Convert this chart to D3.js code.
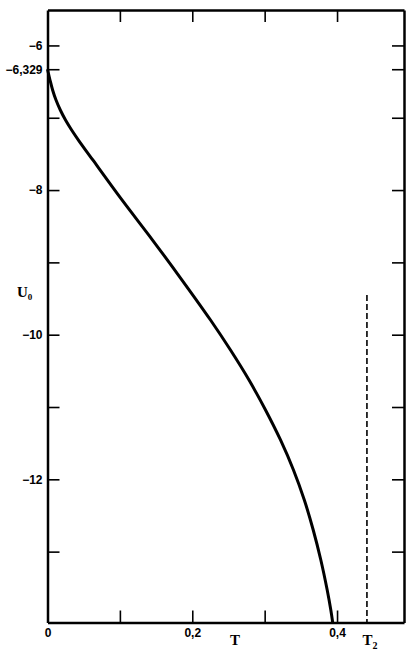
<!DOCTYPE html>
<html><head><meta charset="utf-8">
<script src="https://cdn.jsdelivr.net/npm/d3@7"></script>
<style>
html,body{margin:0;padding:0;background:#fff;}
svg{display:block;}
.lab{font-family:"Liberation Sans",Arial,sans-serif;font-weight:bold;font-size:12px;fill:#000;}
.ttl{font-family:"Liberation Serif","DejaVu Serif",serif;font-weight:bold;fill:#000;}
</style></head>
<body>
<script>
// curve data U0(T)
const tValues = [0, 0.00345, 0.00705, 0.01174, 0.01768, 0.02487, 0.0333, 0.0427, 0.0626, 0.1029, 0.1451, 0.1858, 0.2252, 0.2528, 0.2784, 0.3012, 0.3219, 0.3398, 0.3548, 0.3671, 0.3776, 0.3864, 0.3914, 0.3940];
const uValues = [-6.329, -6.478, -6.616, -6.755, -6.893, -7.031, -7.169, -7.308, -7.584, -8.137, -8.691, -9.244, -9.797, -10.212, -10.627, -11.041, -11.456, -11.871, -12.286, -12.701, -13.116, -13.531, -13.807, -13.98];
const xTicks = [0, 0.1, 0.2, 0.3, 0.4];
const xTickLabels = ["0", "", "0,2", "", "0,4"];
const yTicks = [-6, -6.329, -7, -8, -9, -10, -11, -12, -13];
const yTickLabels = ["\u22126", "\u22126,329", "", "\u22128", "", "\u221210", "", "\u221212", ""];
const t2Value = 0.4413;
const t2Top = -9.45;
const xDomain = [0, 0.4925];
const yDomain = [-13.98, -5.51];

const W = 415, H = 655;
const L = 47.5, R = 404, T = 10, B = 622.5;

const svg = d3.select("body").append("svg").attr("width", W).attr("height", H);
const x = d3.scaleLinear().domain(xDomain).range([L, R]);
const y = d3.scaleLinear().domain(yDomain).range([B, T]);

const ySet = new Map(yTicks.map((v,i)=>[v, yTickLabels[i]]));
const xSet = new Map(xTicks.map((v,i)=>[v, xTickLabels[i]]));

// left axis
svg.append("g").attr("transform", `translate(${L},0)`)
  .call(d3.axisLeft(y).tickValues(yTicks).tickSizeInner(-12).tickSizeOuter(0).tickPadding(5).tickFormat(d=>ySet.get(d)));
// right axis
svg.append("g").attr("transform", `translate(${R},0)`)
  .call(d3.axisRight(y).tickValues(yTicks).tickSizeInner(-12).tickSizeOuter(0).tickFormat(""));
// bottom axis
const gb = svg.append("g").attr("transform", `translate(0,${B})`)
  .call(d3.axisBottom(x).tickValues(xTicks).tickSizeInner(-12).tickSizeOuter(0).tickPadding(6).tickFormat(d=>xSet.get(d)));
// top axis
const gt = svg.append("g").attr("transform", `translate(0,${T})`)
  .call(d3.axisTop(x).tickValues(xTicks).tickSizeInner(-12).tickSizeOuter(0).tickFormat(""));

svg.selectAll(".domain").attr("stroke", "#000").attr("stroke-width", 2.5);
svg.selectAll(".tick line").attr("stroke", "#000").attr("stroke-width", 1.6);
svg.selectAll(".tick text").attr("class", "lab").attr("font-family", null).attr("font-size", null);
gb.selectAll(".tick").filter(d=>d===0).select("line").remove();
gt.selectAll(".tick").filter(d=>d===0).select("line").remove();

// dashed T2 line
svg.append("line")
  .attr("x1", x(t2Value)).attr("x2", x(t2Value))
  .attr("y1", y(t2Top)).attr("y2", y(yDomain[0]))
  .attr("stroke", "#000").attr("stroke-width", 1.6).attr("stroke-dasharray", "6,3");

// curve
const line = d3.line().x((d,i)=>x(tValues[i])).y((d,i)=>y(uValues[i])).curve(d3.curveCatmullRom.alpha(0.5));
svg.append("path").datum(uValues).attr("d", line)
  .attr("fill", "none").attr("stroke", "#000").attr("stroke-width", 3);

// axis titles
svg.append("text").attr("class", "ttl").attr("x", 235).attr("y", 645).attr("text-anchor","middle").attr("font-size", 15).text("T");
const t2 = svg.append("text").attr("class", "ttl").attr("x", x(t2Value)+3).attr("y", 645).attr("text-anchor","middle").attr("font-size", 15);
t2.append("tspan").text("T");
t2.append("tspan").attr("dy", 4).attr("font-size", 10).text("2");
const u0 = svg.append("text").attr("class", "ttl").attr("x", 17).attr("y", 297).attr("font-size", 15);
u0.append("tspan").text("U");
u0.append("tspan").attr("dy", 3).attr("font-size", 9).text("0");
</script>
</body></html>
